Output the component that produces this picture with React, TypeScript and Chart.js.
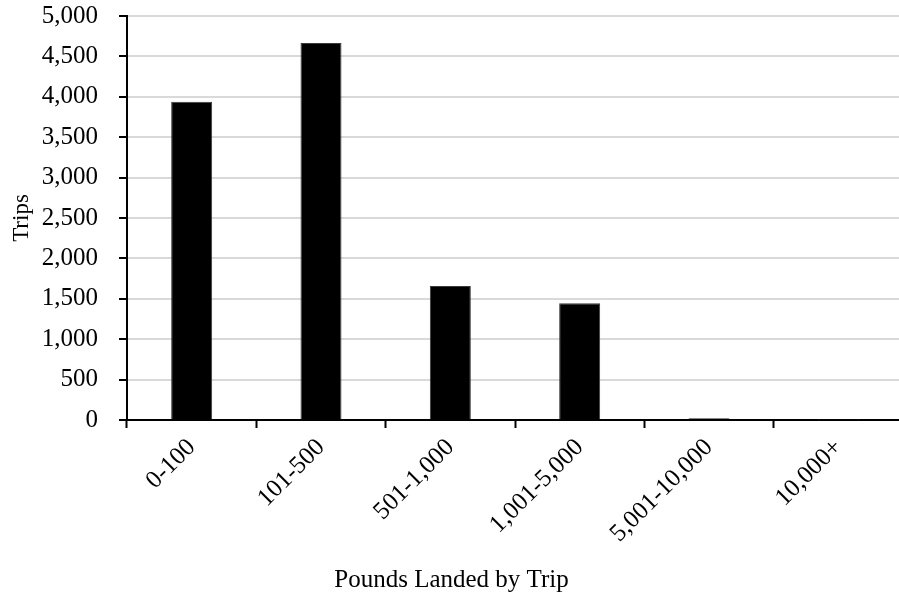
import React, { useEffect, useRef } from "react";
import { Chart, registerables } from "chart.js";

Chart.register(...registerables);

const categories = ["0-100", "101-500", "501-1,000", "1,001-5,000", "5,001-10,000", "10,000+"];
const trips = [3940, 4665, 1658, 1445, 22, 2];
const yTickMax = 5000;
const yTickStep = 500;

const FONT = "'Liberation Serif', 'Times New Roman', serif";

export default function App() {
  const ref = useRef<HTMLCanvasElement | null>(null);
  useEffect(() => {
    if (!ref.current) return;
    const chart = new Chart(ref.current, {
      type: "bar",
      data: {
        labels: categories,
        datasets: [
          {
            data: trips,
            backgroundColor: "#000000",
            borderColor: "#3a3a3a",
            borderWidth: 1,
            barPercentage: 0.317,
            categoryPercentage: 1,
          },
        ],
      },
      options: {
        animation: false,
        responsive: false,
        maintainAspectRatio: false,
        layout: { padding: { top: 16, left: 0, right: 2, bottom: 0 } },
        plugins: {
          legend: { display: false },
          tooltip: { enabled: false },
          title: {
            display: true,
            position: "bottom",
            fullSize: true,
            text: "Pounds Landed by Trip",
            color: "#000000",
            font: { family: FONT, size: 25, weight: "normal" },
            padding: { top: 0, bottom: 3 },
          },
        },
        scales: {
          x: {
            afterFit: (s: any) => {
              s.height = 145;
              s.paddingLeft = 0;
              s.paddingRight = 0;
            },
            grid: {
              display: true,
              drawOnChartArea: false,
              drawTicks: true,
              tickLength: 8,
              tickColor: "#000000",
              tickWidth: 2,
              offset: true,
            },
            border: { display: true, color: "#000000", width: 2 },
            ticks: {
              color: "#000000",
              font: { family: FONT, size: 25 },
              maxRotation: 45,
              minRotation: 45,
              padding: 5,
            },
          },
          y: {
            min: 0,
            max: yTickMax,
            afterFit: (s: any) => {
              s.width = 127;
              s.paddingTop = 0;
              s.paddingBottom = 0;
            },
            grid: {
              color: "#d9d9d9",
              lineWidth: 2,
              tickColor: "#000000",
              tickLength: 8,
              tickWidth: 2,
            },
            border: { display: true, color: "#000000", width: 2 },
            ticks: {
              stepSize: yTickStep,
              color: "#000000",
              font: { family: FONT, size: 25 },
              padding: 21,
              callback: (v: any) => Number(v).toLocaleString("en-US"),
            },
            title: {
              display: true,
              text: "Trips",
              color: "#000000",
              font: { family: FONT, size: 23 },
              padding: { top: 8, bottom: 0 },
            },
          },
        },
      },
    });
    return () => chart.destroy();
  }, []);
  return (
    <div style={{ position: "fixed", left: 0, top: 0, width: 905, height: 598, background: "#fff" }}>
      <canvas ref={ref} width={905} height={598} style={{ width: 905, height: 598 }} />
    </div>
  );
}
